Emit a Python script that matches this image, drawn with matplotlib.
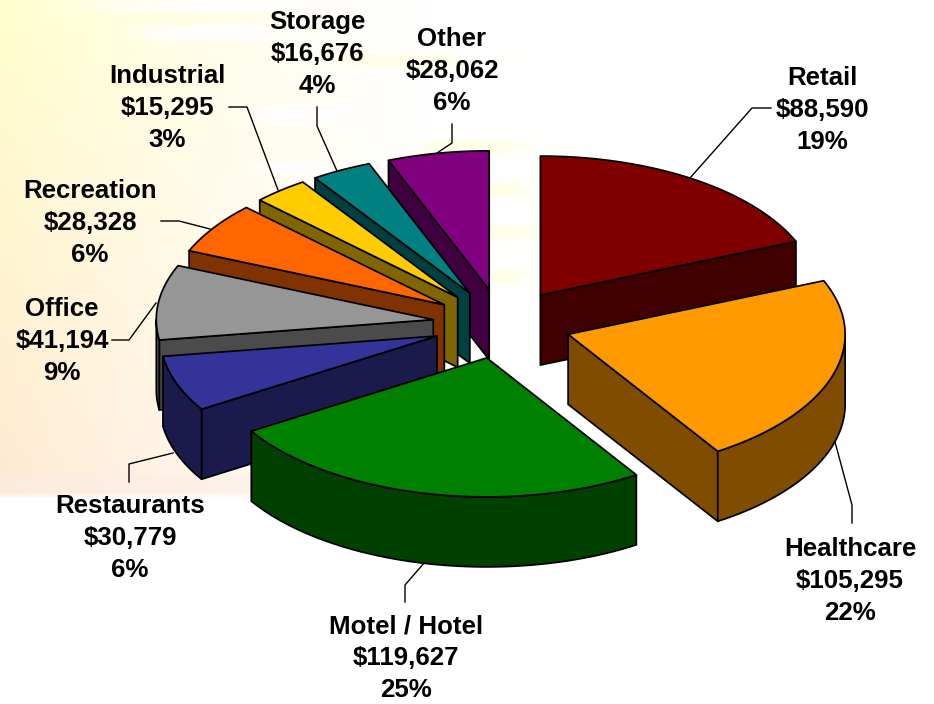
#!/usr/bin/env python3
import numpy as np
import matplotlib
matplotlib.use("Agg")
import matplotlib.pyplot as plt
from matplotlib.patches import Polygon

plt.rcParams["font.family"] = ["Liberation Sans", "DejaVu Sans"]

categories = ["Retail", "Healthcare", "Motel / Hotel", "Restaurants", "Office",
              "Recreation", "Industrial", "Storage", "Other"]
values = [88590, 105295, 119627, 30779, 41194, 28328, 15295, 16676, 28062]
percents = ["19%", "22%", "25%", "6%", "9%", "6%", "3%", "4%", "6%"]
top_colors = ["#800000", "#FF9900", "#008000", "#333399", "#969696",
              "#FF6600", "#FFCC00", "#008080", "#800080"]
side_colors = ["#400000", "#804D00", "#004000", "#1A1A4D", "#4B4B4B",
               "#803300", "#806600", "#004040", "#400040"]

# label centres (middle line) and leader lines, in pixels
label_pos = [(822, 110), (850, 581), (406, 658), (130, 538), (62, 341),
             (90, 223), (167, 108), (317, 54), (452, 71)]
leaders = [
    [(771, 108), (752, 108), (690, 178)],
    [(852, 523), (852, 505), (835, 442)],
    [(405, 602), (405, 585), (425, 562)],
    [(129, 482), (129, 464), (173, 453)],
    [(112, 340), (129, 340), (156, 303)],
    [(161, 221), (179, 221), (210, 229)],
    [(229, 107), (247, 107), (278, 190)],
    [(317, 107), (317, 126), (337, 171)],
    [(452, 124), (452, 143), (437, 153)],
]

W, H = 934, 704
CX, CY = 502, 324
RX, RY = 277, 139
DEPTH = 70
EXPLODE = 0.25


def blob(xx, yy, x, y, w, h):
    return np.exp(-((xx - x) / (w / 2.0)) ** 4 - ((yy - y) / (h / 2.0)) ** 4)[..., None]


def background():
    yy, xx = np.mgrid[0:H, 0:W]
    fade = np.clip(1 - (xx / 430.0) ** 0.9, 0, 1) ** 1.1
    t = np.clip(yy / 490.0, 0, 1)
    tint = np.dstack([255 + 0 * t, 255 - 22 * t, 205 + 5 * t])
    a = fade[..., None]
    img = 255 * (1 - a) + tint * a

    # white streaks over the yellow
    for x, y, w, h in [(220, 33, 170, 16), (310, 115, 120, 20), (240, 6, 300, 12),
                       (300, 168, 90, 12), (250, 275, 80, 14)]:
        m = 0.9 * blob(xx, yy, x, y, w, h)
        img = img * (1 - m) + 255 * m
    # pale yellow streaks further right
    for x, y, w, h in [(470, 147, 110, 16), (490, 189, 75, 16), (495, 232, 80, 16),
                       (490, 276, 75, 16), (400, 60, 120, 14)]:
        m = 0.5 * blob(xx, yy, x, y, w, h)
        img = img * (1 - m) + np.array([255, 255, 210]) * m
    # pink band at the bottom, then plain white
    m = 0.6 * blob(xx, yy, 120, 484, 340, 22)
    img = img * (1 - m) + np.array([252, 236, 228]) * m
    cut = np.clip((498 - yy) / 6.0, 0, 1)[..., None]
    img = img * cut + 255 * (1 - cut)
    return img.astype(np.uint8)


def pt(theta, apex):
    # theta runs clockwise from 12 o'clock, radians
    return apex[0] + RX * np.sin(theta), apex[1] - RY * np.cos(theta)


def draw_slice(ax, start, end, top, side, z):
    mid = (start + end) / 2
    apex = pt(mid, (CX, CY))
    apex = (CX + (apex[0] - CX) * EXPLODE, CY + (apex[1] - CY) * EXPLODE)
    st = {"edgecolor": "black", "linewidth": 1.25, "joinstyle": "round", "zorder": z}

    # cut faces, only when they look towards the viewer
    for edge, normal in ((start, start - np.pi / 2), (end, end + np.pi / 2)):
        if np.cos(normal) < 0:
            p = pt(edge, apex)
            face = [apex, p, (p[0], p[1] + DEPTH), (apex[0], apex[1] + DEPTH)]
            ax.add_patch(Polygon(face, closed=True, facecolor=side, **st))

    # outer wall, front half of the ellipse only
    lo, hi = max(start, np.pi / 2), min(end, 3 * np.pi / 2)
    if hi > lo:
        th = np.linspace(lo, hi, 80)
        x, y = pt(th, apex)
        wall = np.vstack([np.column_stack([x, y]),
                          np.column_stack([x, y + DEPTH])[::-1]])
        ax.add_patch(Polygon(wall, closed=True, facecolor=side, **st))

    th = np.linspace(start, end, 120)
    x, y = pt(th, apex)
    poly = np.vstack([[apex], np.column_stack([x, y])])
    ax.add_patch(Polygon(poly, closed=True, facecolor=top, **st))


fig = plt.figure(figsize=(W / 100, H / 100), dpi=100)
ax = fig.add_axes([0, 0, 1, 1])
ax.imshow(background(), extent=(0, W, H, 0), aspect="auto", zorder=0)
ax.set_xlim(0, W)
ax.set_ylim(H, 0)
ax.axis("off")

edges = np.concatenate([[0], np.cumsum(values)]) / np.sum(values) * 2 * np.pi

# painter's order: the back left slices first, the big front ones last
order = [8, 7, 6, 5, 4, 3, 0, 1, 2]
for z, i in enumerate(order):
    draw_slice(ax, edges[i], edges[i + 1], top_colors[i], side_colors[i], 2 + z)

for i, name in enumerate(categories):
    lx, ly = label_pos[i]
    txt = f"{name}\n${values[i]:,}\n{percents[i]}"
    ax.text(lx, ly, txt, ha="center", va="center", fontsize=18.6, fontweight="bold",
            linespacing=1.4, color="black", zorder=20)
    ax.plot(*zip(*leaders[i]), color="black", lw=1.0, zorder=1.5)

fig.savefig("out.png", dpi=100)
